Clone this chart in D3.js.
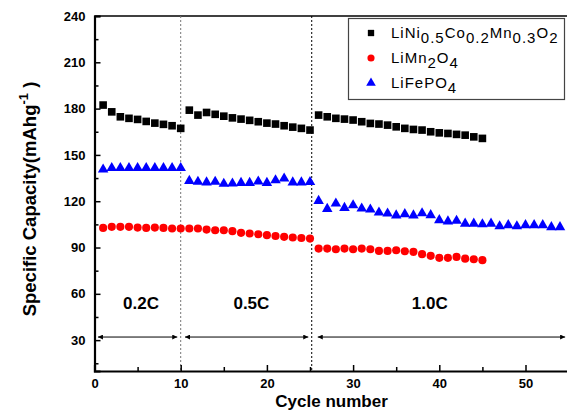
<!DOCTYPE html>
<html>
<head>
<meta charset="utf-8">
<script src="https://cdn.jsdelivr.net/npm/d3@7"></script>
<style>
  body { margin: 0; background: #fff; }
  text { font-family: Arial, "Liberation Sans", sans-serif; }
</style>
</head>
<body>
<div id="chart"></div>
<script>
// --- data ---
const nmcCycles = [1,2,3,4,5,6,7,8,9,10,11,12,13,14,15,16,17,18,19,20,21,22,23,24,25,
  26,27,28,29,30,31,32,33,34,35,36,37,38,39,40,41,42,43,44,45];
const nmcValues = [182.3,177.9,174.7,173.7,173.0,171.7,170.6,169.8,168.9,167.2,
  179.0,175.8,177.5,176.3,175.1,174.0,173.2,172.4,171.5,170.6,170.0,168.9,168.0,167.2,166.1,
  175.8,174.7,173.7,173.2,172.6,171.5,170.4,170.0,169.3,168.2,167.2,166.5,166.1,165.0,164.3,
  163.9,163.3,162.8,161.7,160.7];

const lmoCycles = nmcCycles;
const lmoValues = [102.7,103.4,103.4,103.4,102.9,102.7,102.9,102.7,102.3,102.3,
  102.3,102.3,101.6,101.2,101.2,100.6,99.5,99.1,98.6,98.0,97.5,96.9,96.5,96.2,95.8,
  89.3,89.3,88.9,89.3,88.9,89.3,88.9,87.8,87.8,88.2,87.6,87.2,85.7,84.6,83.3,
  83.3,83.9,82.8,82.4,81.8];

const lfpCycles = [1,2,3,4,5,6,7,8,9,10,11,12,13,14,15,16,17,18,19,20,21,22,23,24,25,
  26,27,28,29,30,31,32,33,34,35,36,37,38,39,40,41,42,43,44,45,46,47,48,49,50,51,52,53,54];
const lfpValues = [140.5,141.5,141.5,141.5,141.5,141.5,141.5,141.5,141.5,141.5,
  133.2,132.6,132.2,132.6,131.3,131.5,131.9,131.9,132.8,131.9,133.6,134.7,132.2,132.2,132.4,
  120.2,115.0,118.5,115.7,117.4,115.3,114.6,112.7,112.0,110.8,111.6,110.8,112.2,111.0,107.7,
  106.9,107.3,105.5,105.5,105.1,105.5,103.8,104.5,103.8,104.5,104.5,104.5,103.2,103.2];

const rateLabels = ["0.2C", "0.5C", "1.0C"];
const rateLabelX = [5.4, 18.2, 38.9];
const rateArrows = [[0.4, 9.6], [10.5, 24.8], [25.9, 54.6]];
const stepLines = [10, 25.2];

const yTicks = [30, 60, 90, 120, 150, 180, 210, 240];
const yMinor = [15, 45, 75, 105, 135, 165, 195, 225];
const xTicks = [0, 10, 20, 30, 40, 50];
const xMinor = [5, 15, 25, 35, 45, 55];

// --- layout ---
const W = 567, H = 410;
const mLeft = 94.5, mTop = 16, mBottom = 371;

const svg = d3.select("#chart").append("svg")
  .attr("width", W).attr("height", H);

const x = d3.scaleLinear().domain([0, 55]).range([mLeft, mLeft + 55 * 8.62]);
const y = d3.scaleLinear().domain([10, 240]).range([mBottom, mTop]);

// frame top line
svg.append("line")
  .attr("x1", mLeft).attr("x2", W + 2)
  .attr("y1", mTop).attr("y2", mTop)
  .attr("stroke", "#000").attr("stroke-width", 1.3);

// step separators
svg.selectAll(".step")
  .data(stepLines)
  .join("line")
  .attr("x1", d => x(d)).attr("x2", d => x(d))
  .attr("y1", mTop).attr("y2", mBottom)
  .attr("stroke", (d, i) => i === 0 ? "#777" : "#000")
  .attr("stroke-width", 1)
  .attr("stroke-dasharray", "2,2");

// axes (ticks point inward)
const fontTick = g => g.selectAll("text")
  .style("font-size", "13px").style("font-weight", "bold").attr("fill", "#000");

svg.append("g")
  .attr("transform", `translate(${mLeft},0)`)
  .call(d3.axisLeft(y).tickValues(yTicks).tickSize(-6).tickPadding(9))
  .call(g => g.select(".domain").attr("stroke-width", 2.2))
  .call(g => g.selectAll(".tick line").attr("stroke-width", 1.5))
  .call(fontTick);

svg.append("g")
  .attr("transform", `translate(${mLeft},0)`)
  .call(d3.axisLeft(y).tickValues(yMinor).tickSize(-4).tickFormat(""))
  .call(g => g.select(".domain").remove())
  .call(g => g.selectAll(".tick line").attr("stroke-width", 1.5));

svg.append("g")
  .attr("transform", `translate(0,${mBottom})`)
  .call(d3.axisBottom(x).tickValues(xTicks).tickSize(-6).tickPadding(8))
  .call(g => g.select(".domain").attr("stroke-width", 2.2))
  .call(g => g.selectAll(".tick line").attr("stroke-width", 1.5))
  .call(fontTick);

svg.append("g")
  .attr("transform", `translate(0,${mBottom})`)
  .call(d3.axisBottom(x).tickValues(xMinor).tickSize(-4).tickFormat(""))
  .call(g => g.select(".domain").remove())
  .call(g => g.selectAll(".tick line").attr("stroke-width", 1.5));

// rate arrows
const defs = svg.append("defs");
defs.append("marker").attr("id", "ahead")
  .attr("viewBox", "0 0 10 10").attr("refX", 10).attr("refY", 5)
  .attr("markerWidth", 7).attr("markerHeight", 5).attr("orient", "auto-start-reverse")
  .attr("markerUnits", "userSpaceOnUse")
  .append("path").attr("d", "M0,0L10,5L0,10Z").attr("fill", "#000");

svg.selectAll(".arrow")
  .data(rateArrows)
  .join("line")
  .attr("x1", d => x(d[0])).attr("x2", d => x(d[1]))
  .attr("y1", y(32)).attr("y2", y(32))
  .attr("stroke", "#000").attr("stroke-width", 1)
  .attr("marker-start", "url(#ahead)").attr("marker-end", "url(#ahead)");

svg.selectAll(".rate")
  .data(rateLabels)
  .join("text")
  .attr("x", (d, i) => x(rateLabelX[i]))
  .attr("y", y(54) + 6)
  .attr("text-anchor", "middle")
  .style("font-size", "17px").style("font-weight", "bold")
  .text(d => d);

// series
const series = [
  { name: "nmc", cycles: nmcCycles, values: nmcValues, shape: d3.symbolSquare, size: 58, color: "#000" },
  { name: "lmo", cycles: lmoCycles, values: lmoValues, shape: d3.symbolCircle, size: 52, color: "#ff0000" },
  { name: "lfp", cycles: lfpCycles, values: lfpValues, shape: d3.symbolTriangle, size: 48, color: "#0000ff" }
];

series.forEach(s => {
  svg.append("g").selectAll("path")
    .data(s.values)
    .join("path")
    .attr("transform", (d, i) => `translate(${x(s.cycles[i])},${y(d)})`)
    .attr("d", d3.symbol(s.shape, s.size))
    .attr("fill", s.color);
});

// legend
const legend = svg.append("g");
legend.append("rect")
  .attr("x", 348.5).attr("y", 18.5).attr("width", 216).attr("height", 81)
  .attr("fill", "#fff").attr("stroke", "#444").attr("stroke-width", 1.2);

const legendRows = [
  [["LiNi", 0], ["0.5", 1], ["Co", 0], ["0.2", 1], ["Mn", 0], ["0.3", 1], ["O", 0], ["2", 1]],
  [["LiMn", 0], ["2", 1], ["O", 0], ["4", 1]],
  [["LiFePO", 0], ["4", 1]]
];
const legendY = [33, 58, 83];

legendRows.forEach((row, i) => {
  legend.append("path")
    .attr("transform", `translate(371,${legendY[i]})`)
    .attr("d", d3.symbol(series[i].shape, 40))
    .attr("fill", series[i].color);
  const t = legend.append("text")
    .attr("x", 391).attr("y", legendY[i] + 5)
    .style("font-size", "15px")
    .style("letter-spacing", "1px");
  let prev = 0;
  row.forEach(([str, sub]) => {
    t.append("tspan")
      .attr("dy", sub - prev === 0 ? 0 : (sub ? 5 : -5))
      .text(str);
    prev = sub;
  });
});

// axis titles
svg.append("text")
  .attr("x", x(27.5)).attr("y", 407)
  .attr("text-anchor", "middle")
  .style("font-size", "17px").style("font-weight", "bold")
  .text("Cycle number");

const yt = svg.append("text")
  .attr("transform", "translate(36,199) rotate(-90)")
  .attr("text-anchor", "middle")
  .style("font-size", "18.5px").style("font-weight", "bold");
yt.append("tspan").text("Specific Capacity(mAhg");
yt.append("tspan").attr("dy", -8).style("font-size", "13px").text("-1");
yt.append("tspan").attr("dy", 8).text(" )");
</script>
</body>
</html>
